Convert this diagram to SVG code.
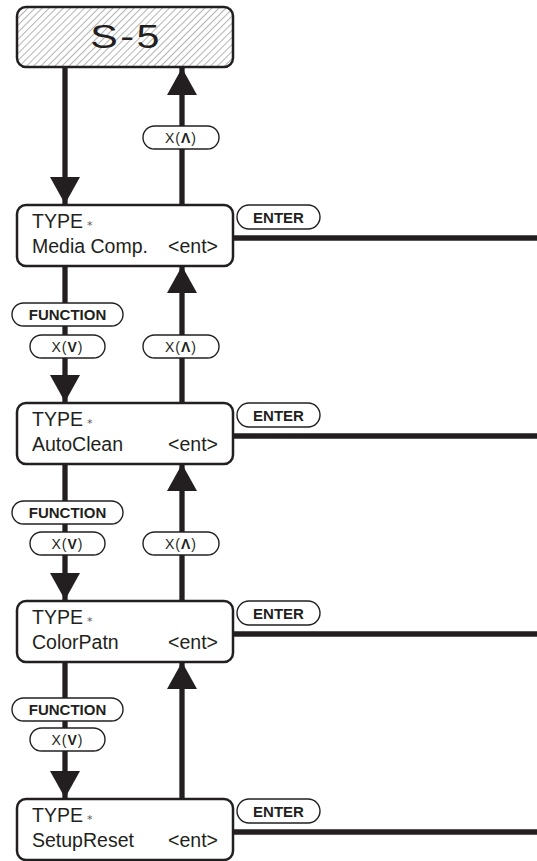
<svg xmlns="http://www.w3.org/2000/svg" width="537" height="861" viewBox="0 0 537 861">
<defs>
<pattern id="hatch" width="5" height="5" patternUnits="userSpaceOnUse" patternTransform="rotate(45)">
<rect width="5" height="5" fill="#fff"/>
<line x1="0" y1="0" x2="0" y2="5" stroke="#a0a0a0" stroke-width="1.6"/>
</pattern>
<marker id="ah" viewBox="0 0 27 30" refX="27" refY="15" markerWidth="27" markerHeight="30" markerUnits="userSpaceOnUse" orient="auto">
<path d="M0,0 L27,15 L0,30 Z" fill="#231f20"/>
</marker>
<style>
.box{fill:#fff;stroke:#231f20;stroke-width:2.5}
.pill{fill:#fff;stroke:#231f20;stroke-width:1.4}
.ln{stroke:#231f20;stroke-width:5.3;fill:none}
.t{font-family:"Liberation Sans",Arial,sans-serif;font-size:19.5px;fill:#231f20}
.pt{font-family:"Liberation Sans",Arial,sans-serif;font-size:14px;fill:#231f20;text-anchor:middle;letter-spacing:1px}
.bt{font-family:"Liberation Sans",Arial,sans-serif;font-size:15px;font-weight:bold;fill:#231f20;text-anchor:middle}
.ast{font-family:"DejaVu Sans",sans-serif;font-size:11px;fill:#555}
</style>
</defs>
<g id="connectors">
<line class="ln" x1="65" y1="67" x2="65" y2="204" marker-end="url(#ah)"/>
<line class="ln" x1="182" y1="205" x2="182" y2="68" marker-end="url(#ah)"/>
<line class="ln" x1="65" y1="266" x2="65" y2="402" marker-end="url(#ah)"/>
<line class="ln" x1="182" y1="403" x2="182" y2="266" marker-end="url(#ah)"/>
<line class="ln" x1="65" y1="464" x2="65" y2="600" marker-end="url(#ah)"/>
<line class="ln" x1="182" y1="601" x2="182" y2="464" marker-end="url(#ah)"/>
<line class="ln" x1="65" y1="662" x2="65" y2="798" marker-end="url(#ah)"/>
<line class="ln" x1="182" y1="799" x2="182" y2="662" marker-end="url(#ah)"/>
<line class="ln" x1="233" y1="238" x2="537" y2="238"/>
<line class="ln" x1="233" y1="436" x2="537" y2="436"/>
<line class="ln" x1="233" y1="634" x2="537" y2="634"/>
<line class="ln" x1="233" y1="832" x2="537" y2="832"/>
</g>
<g id="s5">
<rect class="box" x="17" y="7" width="216" height="60" rx="9" style="fill:url(#hatch)"/>
<text transform="translate(126,48) scale(1.25,1)" x="0" y="0" style="font-family:'Liberation Sans',Arial,sans-serif;font-size:33px;fill:#231f20;text-anchor:middle;letter-spacing:2px">S-5</text>
</g>
<g id="key-up-1">
<rect class="pill" x="143" y="126" width="76" height="23" rx="11.5"/>
<text class="pt" x="181" y="143">X(<tspan font-weight="bold">Λ</tspan>)</text>
</g>
<g id="media-comp">
<rect class="box" x="17" y="205" width="216" height="61" rx="9"/>
<text class="t" x="32" y="228">TYPE</text><text class="ast" x="87" y="229">*</text>
<text class="t" x="32" y="253">Media Comp.</text>
<text class="t" x="218" y="253" text-anchor="end">&lt;ent&gt;</text>
</g>
<g id="enter-1">
<rect class="pill" x="237" y="205" width="83" height="24" rx="12"/>
<text class="bt" x="278.5" y="223">ENTER</text>
</g>
<g id="function-1">
<rect class="pill" x="12" y="303" width="111" height="23" rx="11.5"/>
<text class="bt" x="67.5" y="320">FUNCTION</text>
</g>
<g id="key-down-1">
<rect class="pill" x="30" y="335" width="75" height="23" rx="11.5"/>
<text class="pt" x="67.5" y="352">X(<tspan font-weight="bold">V</tspan>)</text>
</g>
<g id="key-up-2">
<rect class="pill" x="143" y="335" width="76" height="23" rx="11.5"/>
<text class="pt" x="181" y="352">X(<tspan font-weight="bold">Λ</tspan>)</text>
</g>
<g id="autoclean">
<rect class="box" x="17" y="403" width="216" height="61" rx="9"/>
<text class="t" x="32" y="426">TYPE</text><text class="ast" x="87" y="427">*</text>
<text class="t" x="32" y="451">AutoClean</text>
<text class="t" x="218" y="451" text-anchor="end">&lt;ent&gt;</text>
</g>
<g id="enter-2">
<rect class="pill" x="237" y="403" width="83" height="24" rx="12"/>
<text class="bt" x="278.5" y="421">ENTER</text>
</g>
<g id="function-2">
<rect class="pill" x="12" y="501" width="111" height="23" rx="11.5"/>
<text class="bt" x="67.5" y="518">FUNCTION</text>
</g>
<g id="key-down-2">
<rect class="pill" x="30" y="532" width="75" height="23" rx="11.5"/>
<text class="pt" x="67.5" y="549">X(<tspan font-weight="bold">V</tspan>)</text>
</g>
<g id="key-up-3">
<rect class="pill" x="143" y="532" width="76" height="23" rx="11.5"/>
<text class="pt" x="181" y="549">X(<tspan font-weight="bold">Λ</tspan>)</text>
</g>
<g id="colorpatn">
<rect class="box" x="17" y="601" width="216" height="61" rx="9"/>
<text class="t" x="32" y="624">TYPE</text><text class="ast" x="87" y="625">*</text>
<text class="t" x="32" y="649">ColorPatn</text>
<text class="t" x="218" y="649" text-anchor="end">&lt;ent&gt;</text>
</g>
<g id="enter-3">
<rect class="pill" x="237" y="601" width="83" height="24" rx="12"/>
<text class="bt" x="278.5" y="619">ENTER</text>
</g>
<g id="function-3">
<rect class="pill" x="12" y="698" width="111" height="23" rx="11.5"/>
<text class="bt" x="67.5" y="715">FUNCTION</text>
</g>
<g id="key-down-3">
<rect class="pill" x="30" y="728" width="75" height="23" rx="11.5"/>
<text class="pt" x="67.5" y="745">X(<tspan font-weight="bold">V</tspan>)</text>
</g>
<g id="setupreset">
<rect class="box" x="17" y="799" width="216" height="61" rx="9"/>
<text class="t" x="32" y="822">TYPE</text><text class="ast" x="87" y="823">*</text>
<text class="t" x="32" y="847">SetupReset</text>
<text class="t" x="218" y="847" text-anchor="end">&lt;ent&gt;</text>
</g>
<g id="enter-4">
<rect class="pill" x="237" y="799" width="83" height="24" rx="12"/>
<text class="bt" x="278.5" y="817">ENTER</text>
</g>
</svg>
